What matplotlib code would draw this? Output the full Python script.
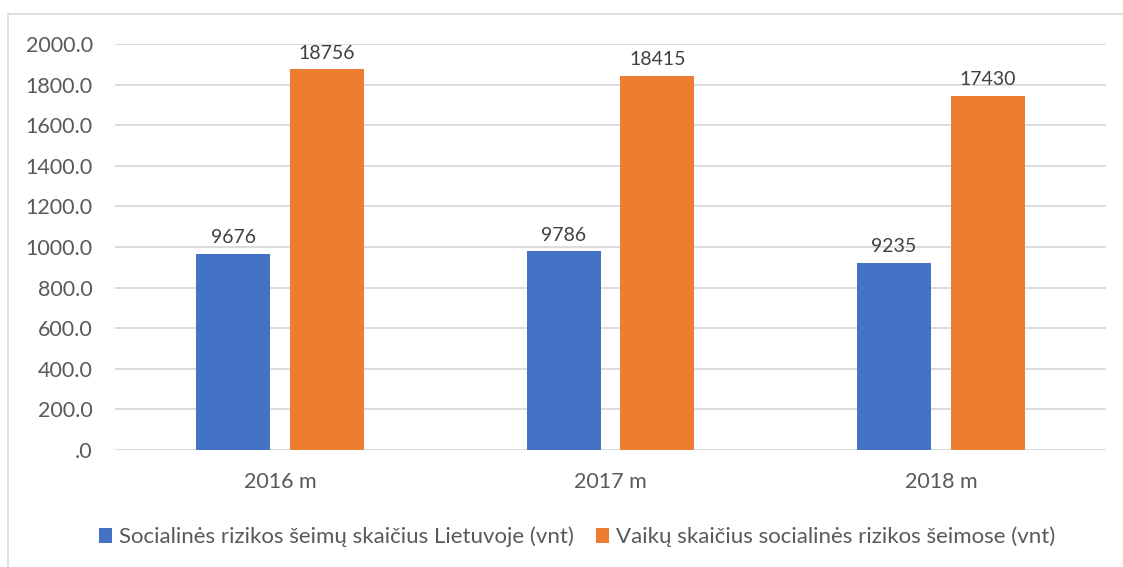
import numpy as np
import matplotlib.pyplot as plt
from matplotlib.patches import Rectangle

years = ["2016 m", "2017 m", "2018 m"]
families = [9676, 9786, 9235]
children = [18756, 18415, 17430]
series_names = ["Socialinės rizikos šeimų skaičius Lietuvoje (vnt)",
                "Vaikų skaičius socialinės rizikos šeimose (vnt)"]
y_ticks = [0, 200, 400, 600, 800, 1000, 1200, 1400, 1600, 1800, 2000]

plt.rcParams["font.family"] = ["Lato", "DejaVu Sans"]
text_color = "#595959"
blue = "#4472c4"
orange = "#ed7d31"

fig = plt.figure(figsize=(11.23, 5.67), dpi=100)
ax = fig.add_axes([115 / 1123, 1 - 450 / 567, 991 / 1123, 406 / 567])

# frame around the chart area (runs off the right/bottom edge)
fig.patches.append(Rectangle((8 / 1123, -0.1), 1.2, 1 - 14 / 567 + 0.1,
                             transform=fig.transFigure, fill=False,
                             edgecolor="#d9d9d9", linewidth=1.2))

x = np.arange(len(years))
w = 0.224
off = 0.142
# bars are drawn at a tenth of the labelled value (as in the source chart)
b1 = ax.bar(x - off, np.array(families) / 10, w, color=blue,
            label=series_names[0], zorder=3)
b2 = ax.bar(x + off, np.array(children) / 10, w, color=orange,
            label=series_names[1], zorder=3)

for bars, vals in ((b1, families), (b2, children)):
  for rect, v in zip(bars, vals):
    ax.text(rect.get_x() + rect.get_width() / 2, rect.get_height() + 38,
            str(v), ha="center", va="bottom", fontsize=14,
            color="#404040")

ax.set_xlim(-0.5, 2.5)
ax.set_ylim(0, 2000)
ax.set_yticks(y_ticks)
ax.set_yticklabels([f"{t:.1f}" if t else ".0" for t in y_ticks])
ax.set_xticks(x)
ax.set_xticklabels(years)
ax.grid(axis="y", color="#d9d9d9", linewidth=1.3, zorder=0)
ax.tick_params(length=0, labelsize=15.5, colors=text_color)
ax.tick_params(axis="y", pad=16)
ax.tick_params(axis="x", pad=16)
for s in ax.spines.values():
  s.set_visible(False)

fig.legend(handles=[b1, b2], loc="center",
           bbox_to_anchor=(577 / 1123, 1 - 537 / 567),
           ncol=2, frameon=False, fontsize=16, labelcolor=text_color,
           handlelength=0.6, handleheight=0.6, handletextpad=0.3,
           columnspacing=1.0)

fig.savefig("out.png", dpi=100)
